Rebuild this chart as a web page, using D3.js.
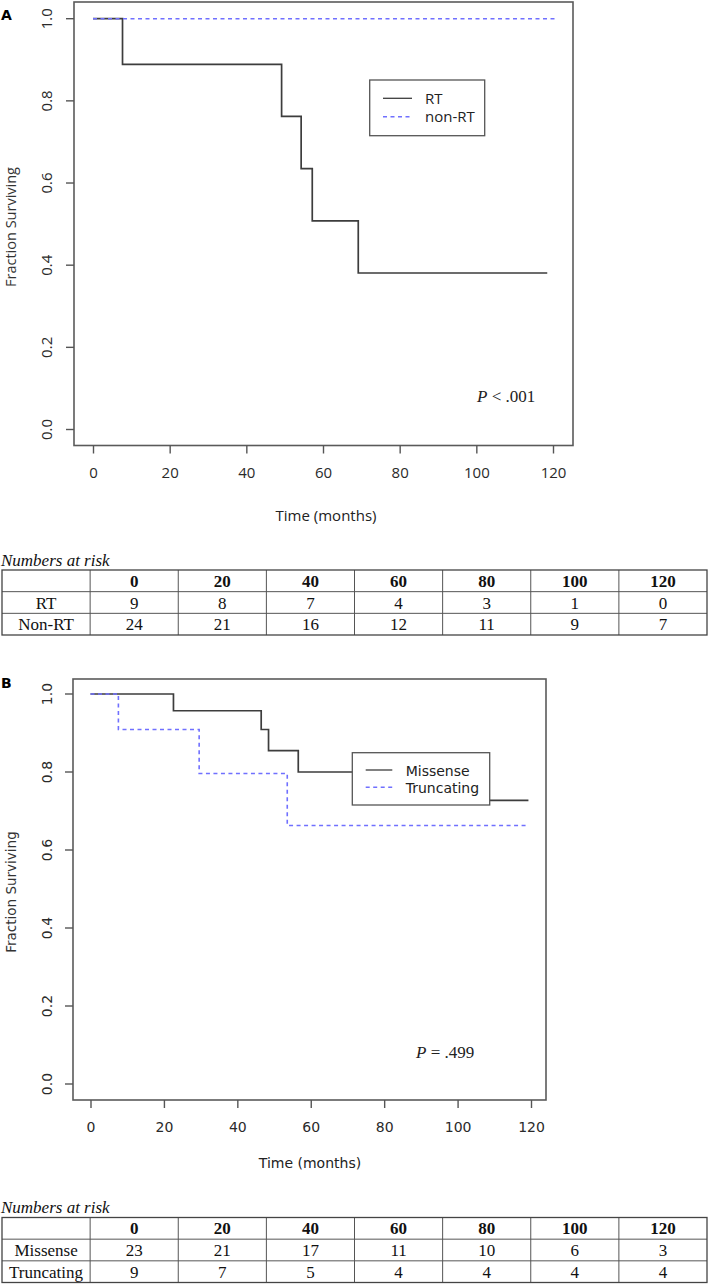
<!DOCTYPE html>
<html>
<head>
<meta charset="utf-8">
<script src="https://cdn.jsdelivr.net/npm/d3@7"></script>
<style>
  body { margin: 0; background: #fff; }
  svg { display: block; }
</style>
</head>
<body>
<div id="canvas"></div>
<script>
// panel A: RT vs non-RT
const rtTime = [0, 7.7, 49.2, 54.3, 57.2, 69.2, 118.5];
const rtSurv = [1.0, 0.889, 0.762, 0.635, 0.508, 0.381, 0.381];
const nonRtTime = [0, 120.5];
const nonRtSurv = [1.0, 1.0];

// panel B: Missense vs Truncating
const misTime = [0, 22.6, 46.5, 48.5, 56.6, 95, 119.3];
const misSurv = [1.0, 0.957, 0.909, 0.855, 0.8, 0.727, 0.727];
const truTime = [0, 7.6, 29.6, 53.6, 119.3];
const truSurv = [1.0, 0.909, 0.796, 0.663, 0.663];

const xTicks = [0, 20, 40, 60, 80, 100, 120];
const yTicks = [0, 0.2, 0.4, 0.6, 0.8, 1.0];

// numbers at risk
const riskHeader = ["", "0", "20", "40", "60", "80", "100", "120"];
const riskA = [
  ["RT", 9, 8, 7, 4, 3, 1, 0],
  ["Non-RT", 24, 21, 16, 12, 11, 9, 7]
];
const riskB = [
  ["Missense", 23, 21, 17, 11, 10, 6, 3],
  ["Truncating", 9, 7, 5, 4, 4, 4, 4]
];

const svg = d3.select("#canvas").append("svg")
  .attr("width", 709)
  .attr("height", 1284);

const curveColor = "#3d3d3d";
const blue = "#7070ff";

function panel(o) {
  const g = svg.append("g").attr("font-family", o.font);

  const x = d3.scaleLinear().domain([0, 120]).range(o.xr);
  const y = d3.scaleLinear().domain([0, 1]).range(o.yr);

  // curves
  const line = d3.line()
    .x(function(d) { return x(d[0]); })
    .y(function(d) { return y(d[1]); })
    .curve(d3.curveStepAfter);

  o.series.forEach(function(s) {
    g.append("path")
      .datum(d3.zip(s.t, s.s))
      .attr("d", line)
      .attr("fill", "none")
      .attr("stroke", s.color)
      .attr("stroke-width", s.dash ? 1.6 : 1.7)
      .attr("stroke-dasharray", s.dash ? "4,3.5" : null);
  });

  // box
  g.append("rect")
    .attr("x", o.box[0]).attr("y", o.box[1])
    .attr("width", o.box[2] - o.box[0]).attr("height", o.box[3] - o.box[1])
    .attr("fill", "none").attr("stroke", "#5a5a5a").attr("stroke-width", 1.6);

  // x axis
  const xa = g.append("g")
    .attr("transform", "translate(0," + o.box[3] + ")")
    .call(d3.axisBottom(x).tickValues(xTicks).tickSize(8).tickPadding(14));
  xa.select(".domain").remove();
  xa.selectAll("line").attr("stroke", "#555").attr("stroke-width", 1.4);
  xa.selectAll("text").attr("font-size", o.fs).attr("fill", "#2a2a2a")
    .attr("font-family", o.font);

  // y axis, labels turned like R's default
  const ya = g.append("g")
    .attr("transform", "translate(" + o.box[0] + ",0)")
    .call(d3.axisLeft(y).tickValues(yTicks).tickSize(8).tickFormat(d3.format(".1f")));
  ya.select(".domain").remove();
  ya.selectAll(".tick").attr("transform", "translate(0,0)");
  ya.selectAll(".tick line")
    .attr("y1", function(d) { return y(d); }).attr("y2", function(d) { return y(d); })
    .attr("stroke", "#555").attr("stroke-width", 1.4);
  ya.selectAll("text")
    .attr("font-size", o.fs).attr("fill", "#2a2a2a").attr("font-family", o.font)
    .attr("x", null).attr("y", 0).attr("dy", null)
    .attr("text-anchor", "middle")
    .attr("transform", function(d) { return "translate(" + o.ytx + "," + y(d) + ") rotate(-90)"; });

  // titles
  g.append("text")
    .attr("transform", "translate(" + o.ylab[0] + "," + o.ylab[1] + ") rotate(-90)")
    .attr("text-anchor", "middle").attr("font-size", o.fs - 0.5).attr("fill", "#333")
    .text("Fraction Surviving");
  g.append("text")
    .attr("x", o.xlab[0]).attr("y", o.xlab[1])
    .attr("text-anchor", "middle").attr("font-size", o.fs).attr("fill", "#222")
    .text("Time (months)");

  // panel letter
  svg.append("text")
    .attr("x", 1).attr("y", o.letterY)
    .attr("font-family", "DejaVu Sans").attr("font-weight", "bold")
    .attr("font-size", 14).text(o.letter);

  // legend
  const lg = g.append("g");
  lg.append("rect")
    .attr("x", o.leg[0]).attr("y", o.leg[1])
    .attr("width", o.leg[2] - o.leg[0]).attr("height", o.leg[3] - o.leg[1])
    .attr("fill", "#fff").attr("stroke", "#555").attr("stroke-width", 1.3);
  o.series.forEach(function(s, i) {
    const yy = o.legRows[i];
    lg.append("line")
      .attr("x1", o.legLine[0]).attr("x2", o.legLine[1])
      .attr("y1", yy).attr("y2", yy)
      .attr("stroke", s.color).attr("stroke-width", s.dash ? 1.6 : 1.3)
      .attr("stroke-dasharray", s.dash ? "4,3.5" : null);
    lg.append("text")
      .attr("x", o.legText).attr("y", yy + 5.5)
      .attr("font-size", o.fs).attr("fill", "#222")
      .text(s.name);
  });

  // p value
  const p = g.append("text")
    .attr("x", o.p[0]).attr("y", o.p[1])
    .attr("font-family", "Liberation Serif").attr("font-size", 17).attr("fill", "#222");
  p.append("tspan").attr("font-style", "italic").text("P");
  p.append("tspan").text(o.ptext);
}

panel({
  letter: "A", letterY: 20,
  font: "Open Sans", fs: 15, ytx: -22,
  xr: [93, 553], yr: [429.5, 18.7],
  box: [74, 2, 573, 445.5],
  ylab: [16, 227], xlab: [326, 521],
  leg: [369.7, 80, 484.7, 135.7], legLine: [383, 412], legText: [425], legRows: [98.3, 116.7],
  p: [477, 402], ptext: " < .001",
  series: [
    { name: "RT", t: rtTime, s: rtSurv, color: curveColor, dash: false },
    { name: "non-RT", t: nonRtTime, s: nonRtSurv, color: blue, dash: true }
  ]
});

panel({
  letter: "B", letterY: 688,
  font: "DejaVu Sans", fs: 14, ytx: -21,
  xr: [90.5, 531], yr: [1084, 694],
  box: [73, 679, 546, 1100],
  ylab: [16, 892], xlab: [310, 1168],
  leg: [352.3, 752.7, 489.7, 805], legLine: [365.7, 392.3], legText: [405.7], legRows: [770, 787.3],
  p: [416, 1058], ptext: " = .499",
  series: [
    { name: "Missense", t: misTime, s: misSurv, color: curveColor, dash: false },
    { name: "Truncating", t: truTime, s: truSurv, color: blue, dash: true }
  ]
});

// numbers at risk tables
function riskTable(rows, top, titleY) {
  const g = svg.append("g").attr("font-family", "Liberation Serif").attr("fill", "#111");
  g.append("text").attr("x", 1).attr("y", titleY)
    .attr("font-style", "italic").attr("font-size", 17).text("Numbers at risk");

  const all = [riskHeader].concat(rows);
  const cx = d3.scaleBand().domain(d3.range(8)).range([2, 707]);
  const cy = d3.scaleBand().domain(d3.range(all.length)).range([top, top + 65]);

  // grid
  d3.range(1, 8).forEach(function(c) {
    g.append("line").attr("x1", cx(c)).attr("x2", cx(c))
      .attr("y1", top).attr("y2", top + 65)
      .attr("stroke", "#555").attr("stroke-width", 1);
  });
  d3.range(1, all.length).forEach(function(r) {
    g.append("line").attr("x1", 2).attr("x2", 707)
      .attr("y1", cy(r)).attr("y2", cy(r))
      .attr("stroke", "#555").attr("stroke-width", 1);
  });
  g.append("rect").attr("x", 2).attr("y", top).attr("width", 705).attr("height", 65)
    .attr("fill", "none").attr("stroke", "#444").attr("stroke-width", 1.3);

  all.forEach(function(row, r) {
    row.forEach(function(v, c) {
      g.append("text")
        .attr("x", cx(c) + cx.bandwidth() / 2)
        .attr("y", cy(r) + cy.bandwidth() / 2 + 6)
        .attr("text-anchor", "middle")
        .attr("font-size", 17)
        .attr("font-weight", r === 0 ? "bold" : null)
        .text(v);
    });
  });
}

riskTable(riskA, 570, 566);
riskTable(riskB, 1217.5, 1213);
</script>
</body>
</html>
